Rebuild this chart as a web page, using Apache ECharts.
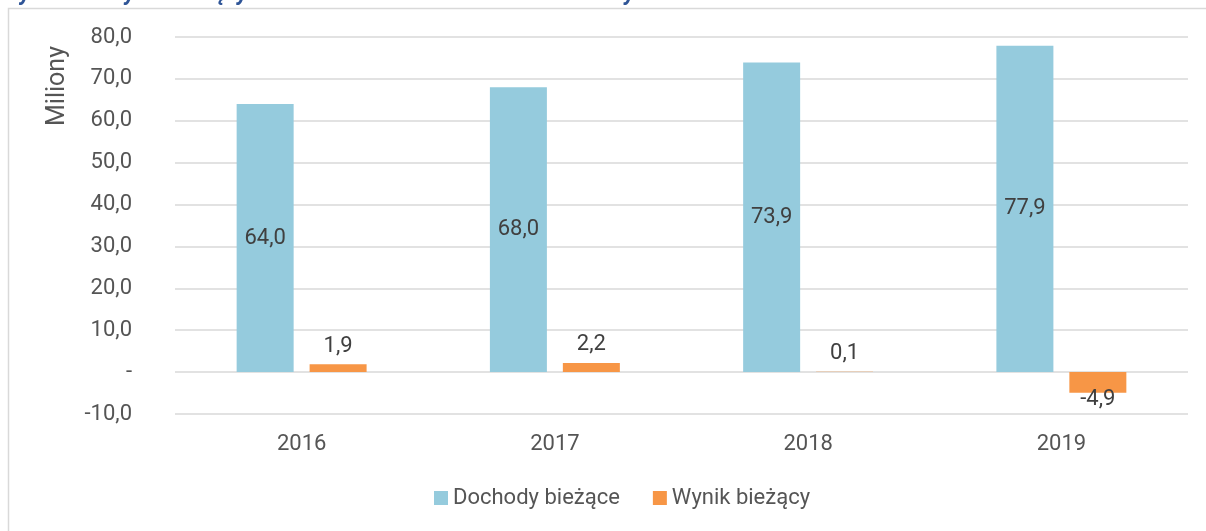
<!doctype html>
<html>
  <head>
    <meta charset="utf-8">
    <title>Wynik bieżący</title>
    <script src="https://cdn.jsdelivr.net/npm/echarts@6/dist/echarts.min.js"></script>
    <style>
      html, body { margin: 0; padding: 0; background: #FFFFFF; }
      #chart { width: 1206px; height: 531px; }
    </style>
  </head>
  <body>
    <div id="chart"></div>
    <script type="text/javascript">
      // dane z wykresu
      var years = ['2016', '2017', '2018', '2019'];
      var dochody = [64.0, 68.0, 73.9, 77.9];
      var wynik = [1.9, 2.2, 0.1, -4.9];
      var seriesNames = ['Dochody bieżące', 'Wynik bieżący'];

      var txt = '#555555';
      var font = 'Roboto';

      function fmt(v) {
        if (v === 0) return '-';
        return v.toFixed(1).replace('.', ',');
      }

      var wynikData = wynik.map(function (v) {
        if (v < 0) {
          return { value: v, label: { position: 'bottom', distance: -4 } };
        }
        return v;
      });

      var myChart = echarts.init(document.getElementById('chart'));
      myChart.setOption({
        animation: false,
        textStyle: { fontFamily: font },
        graphic: [
          {
            type: 'rect',
            shape: { x: 8.5, y: 8.5, width: 1220, height: 540 },
            style: { fill: 'none', stroke: '#D9D9D9', lineWidth: 1.5 }
          },
          {
            type: 'text',
            left: 0,
            top: -17,
            style: {
              text: 'Wykres 3. Wynik bieżący w latach 2016-2019 w milionach złotych',
              fill: '#2F5597',
              font: 'italic bold 23px Roboto'
            }
          },
          {
            // nazwa osi Y
            type: 'text',
            x: 58,
            y: 86,
            rotation: Math.PI / 2,
            style: {
              text: 'Miliony',
              fill: txt,
              font: '25px Roboto',
              align: 'center',
              verticalAlign: 'middle'
            }
          }
        ],
        grid: { left: 175, right: 18, top: 37, bottom: 117 },
        legend: {
          data: seriesNames,
          bottom: 17,
          left: 429,
          itemWidth: 14,
          itemHeight: 14,
          itemGap: 33,
          icon: 'rect',
          textStyle: { color: txt, fontSize: 22, fontFamily: font }
        },
        xAxis: {
          type: 'category',
          data: years,
          axisLine: { show: false },
          axisTick: { show: false },
          axisLabel: { color: txt, fontSize: 22, margin: 19 }
        },
        yAxis: {
          type: 'value',
          min: -10,
          max: 80,
          interval: 10,
          axisLine: { show: false },
          axisTick: { show: false },
          axisLabel: { color: txt, fontSize: 22, margin: 43, formatter: fmt },
          splitLine: { lineStyle: { color: '#D9D9D9', width: 1.5 } }
        },
        series: [
          {
            name: seriesNames[0],
            type: 'bar',
            data: dochody,
            barWidth: 57,
            barGap: '28%',
            itemStyle: { color: '#95CBDD' },
            label: {
              show: true,
              position: 'inside',
              color: '#404040',
              fontSize: 22,
              formatter: function (p) { return fmt(p.value); }
            }
          },
          {
            name: seriesNames[1],
            type: 'bar',
            data: wynikData,
            barWidth: 57,
            itemStyle: { color: '#F79646' },
            label: {
              show: true,
              position: 'top',
              distance: 7,
              color: '#404040',
              fontSize: 22,
              formatter: function (p) { return fmt(p.value); }
            }
          }
        ]
      });
    </script>
  </body>
</html>
